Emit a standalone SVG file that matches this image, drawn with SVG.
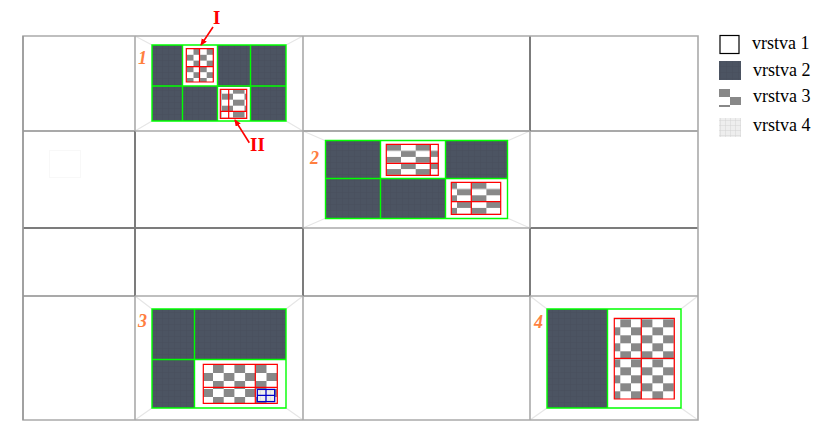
<svg xmlns="http://www.w3.org/2000/svg" width="822" height="433" viewBox="0 0 822 433">
<style>
.lt{stroke:#aaa;stroke-width:1.6;fill:none}
.dk{stroke:#555;stroke-width:1.2;fill:none}
.th{stroke:#7c7c7c;stroke-width:2;fill:none}
.bev{stroke:#e6e6e6;stroke-width:1.2;fill:none}
.dark{fill:url(#d)}
.w{fill:#fff}
.soft{filter:url(#s)}
.g{fill:none;stroke:#0f0;stroke-width:1.4}
.r{fill:none;stroke:#f00;stroke-width:1.2}
.b{fill:none;stroke:#00c;stroke-width:1.3}
.n{font:italic bold 18px "Liberation Serif",serif;fill:#ff7f3f}
.m{font:bold 19px "Liberation Serif",serif;fill:#f00}
.l{font:18px "Liberation Serif",serif;fill:#000}
.arr{stroke:#f00;stroke-width:1.6;fill:none;marker-end:url(#a)}
</style>
<defs>
<filter id="s" x="-5%" y="-5%" width="110%" height="110%"><feGaussianBlur stdDeviation="0.45"/></filter>
<marker id="a" markerWidth="8" markerHeight="8" refX="6" refY="3" orient="auto" markerUnits="userSpaceOnUse"><path d="M0,0L7,3L0,6z" fill="#f00"/></marker>
<pattern id="d" width="6" height="6" patternUnits="userSpaceOnUse"><rect width="6" height="6" fill="#4c5462"/><path d="M0,0h6M0,0v6" stroke="#474e5b" stroke-width="1"/></pattern>
<pattern id="l4" width="5" height="5" patternUnits="userSpaceOnUse"><rect width="5" height="5" fill="#eee"/><path d="M0,0h5M0,0v5" stroke="#d4d4d4" stroke-width="1"/></pattern>
<pattern id="c1" x="193.5" y="49" width="13.2" height="11.6" patternUnits="userSpaceOnUse"><rect width="13.2" height="11.6" fill="#fff"/><rect width="6.6" height="5.8" fill="#888"/><rect x="6.6" y="5.8" width="6.6" height="5.8" fill="#888"/></pattern>
<pattern id="c2" x="233" y="87.7" width="23" height="12" patternUnits="userSpaceOnUse"><rect width="23" height="12" fill="#fff"/><rect width="11.5" height="6" fill="#888"/><rect x="11.5" y="6" width="11.5" height="6" fill="#888"/></pattern>
<pattern id="c3" x="386.3" y="144.7" width="29.4" height="12.2" patternUnits="userSpaceOnUse"><rect width="29.4" height="12.2" fill="#fff"/><rect width="14.7" height="6.1" fill="#888"/><rect x="14.7" y="6.1" width="14.7" height="6.1" fill="#888"/></pattern>
<pattern id="c4" x="442.3" y="182.7" width="29.4" height="12.6" patternUnits="userSpaceOnUse"><rect width="29.4" height="12.6" fill="#fff"/><rect width="14.7" height="6.3" fill="#888"/><rect x="14.7" y="6.3" width="14.7" height="6.3" fill="#888"/></pattern>
<pattern id="c5" x="213" y="365" width="21.4" height="16" patternUnits="userSpaceOnUse"><rect width="21.4" height="16" fill="#fff"/><rect width="10.7" height="8" fill="#888"/><rect x="10.7" y="8" width="10.7" height="8" fill="#888"/></pattern>
<pattern id="c6" x="620.3" y="319.3" width="21.4" height="16" patternUnits="userSpaceOnUse"><rect width="21.4" height="16" fill="#fff"/><rect width="10.7" height="8" fill="#888"/><rect x="10.7" y="8" width="10.7" height="8" fill="#888"/></pattern>
<pattern id="c7" x="719" y="89" width="22" height="16" patternUnits="userSpaceOnUse"><rect width="22" height="16" fill="#fff"/><rect width="11" height="8" fill="#888"/><rect x="11" y="8" width="11" height="8" fill="#888"/></pattern>
</defs>
<rect width="822" height="433" fill="#fff"/>
<g id="grid">
<path class="bev" d="M135,36L152,45M303,36L286,45M135,131L152,121M303,131L286,121"/>
<path class="bev" d="M303,131L326,141M530,131L507,141M303,228L326,218M530,228L507,218"/>
<path class="bev" d="M135,296L152,309M303,296L286,309M135,420L152,408M303,420L286,408"/>
<path class="bev" d="M530,296L547,309M698,296L681,309M530,420L547,408M698,420L681,408"/>
<rect x="49.5" y="150.5" width="31" height="27" fill="none" stroke="#f8f8f8"/>
<path class="dk" d="M23,131H135M303,131H698M135,296H23M303,296H530"/>
<path class="th" d="M23,228H303M530,228H698M135,131V296M303,228V296M530,36V131M530,228V296"/>
<path class="lt" d="M23,36H698V420H23ZM135,131H303M303,131H530M303,228H530M135,296H303M530,296H698M135,36V131M303,36V228M530,131V228M135,296V420M303,296V420M530,296V420"/>
<path d="M23,36V420" stroke="#888" stroke-width="1" fill="none"/>
</g>
<g id="region-1">
<rect class="dark" x="152" y="45" width="134" height="76"/>
<rect class="w" x="183" y="45" width="34" height="41"/>
<rect class="w" x="218" y="87" width="32" height="34"/>
<rect class="soft" x="186.3" y="48.7" width="27" height="33.3" fill="url(#c1)"/>
<rect class="soft" x="220.3" y="89.3" width="26.4" height="29" fill="url(#c2)"/>
<path class="g" d="M152,45H286V121H152ZM152,86H286M182.5,45V121M217.5,45V121M250.5,45V121"/>
<path class="r" d="M186.3,48.7H213.3V82H186.3ZM186.3,66.7H213.3M199.5,48.7V82"/>
<path class="r" d="M220.3,89.3H246.7V118.3H220.3ZM220.3,111.3H246.7M228.7,89.3V118.3"/>
<text class="n" x="138" y="64">1</text>
</g>
<g id="region-2">
<rect class="dark" x="326" y="141" width="181" height="77"/>
<rect class="w" x="381" y="141" width="64" height="37"/>
<rect class="w" x="446" y="179" width="61" height="39"/>
<rect class="soft" x="386.3" y="144.3" width="52" height="31" fill="url(#c3)"/>
<rect class="soft" x="451.3" y="182.3" width="49.4" height="32" fill="url(#c4)"/>
<path class="g" d="M325.5,140.5H507.5V218.5H325.5ZM325.5,178.5H507.5M380.5,140.5V218.5M445.5,140.5V218.5"/>
<path class="r" d="M386.3,144.3H438.3V175.3H386.3ZM386.3,163.3H438.3M430.3,144.3V175.3"/>
<path class="r" d="M451.3,182.3H500.7V214.3H451.3ZM451.3,201.7H500.7M471.3,182.3V214.3"/>
<text class="n" x="310" y="164">2</text>
</g>
<g id="region-3">
<rect class="dark" x="152" y="309" width="134" height="99"/>
<rect class="w" x="195" y="360" width="91" height="48"/>
<rect class="soft" x="203.3" y="364.3" width="74" height="39" fill="url(#c5)"/>
<rect x="257.3" y="389.3" width="17.4" height="12.4" fill="url(#l4)"/>
<path class="g" d="M152,309H286V408H152ZM152,359.5H286M194.5,309V408"/>
<path class="r" d="M203.3,364.3H277.3V403.3H203.3ZM203.3,387.3H277.3M255.3,364.3V403.3"/>
<path class="b" d="M257.3,389.3H274.7V401.7H257.3ZM257.3,395.3H274.7M266,389.3V401.7"/>
<text class="n" x="138" y="327">3</text>
</g>
<g id="region-4">
<rect class="w" x="547" y="309" width="134" height="99"/>
<rect class="dark" x="547" y="309" width="60" height="99"/>
<rect class="soft" x="614.3" y="318.3" width="60" height="80.7" fill="url(#c6)"/>
<path class="g" d="M547,309H681V408H547ZM607.5,309V408"/>
<path class="r" d="M614.3,318.3H674.3V399H614.3ZM614.3,358.3H674.3M641.3,318.3V399"/>
<text class="n" x="534" y="328">4</text>
</g>
<g id="connectors">
<path class="arr" d="M213,27L201,45"/>
<path class="arr" d="M249.3,142.7L235,120"/>
</g>
<text class="m" x="213" y="24">I</text>
<text class="m" x="250" y="151">II</text>
<g id="legend">
<rect x="720" y="35.5" width="19" height="18" fill="#fff" stroke="#000" stroke-width="1.2"/>
<rect class="dark" x="719" y="61" width="22" height="19"/>
<rect class="soft" x="719" y="89" width="22" height="18" fill="url(#c7)"/>
<rect x="719" y="118" width="22" height="19" fill="url(#l4)"/>
<text class="l" x="752" y="49">vrstva 1</text>
<text class="l" x="753" y="76">vrstva 2</text>
<text class="l" x="753" y="102">vrstva 3</text>
<text class="l" x="753" y="131">vrstva 4</text>
</g>
</svg>
